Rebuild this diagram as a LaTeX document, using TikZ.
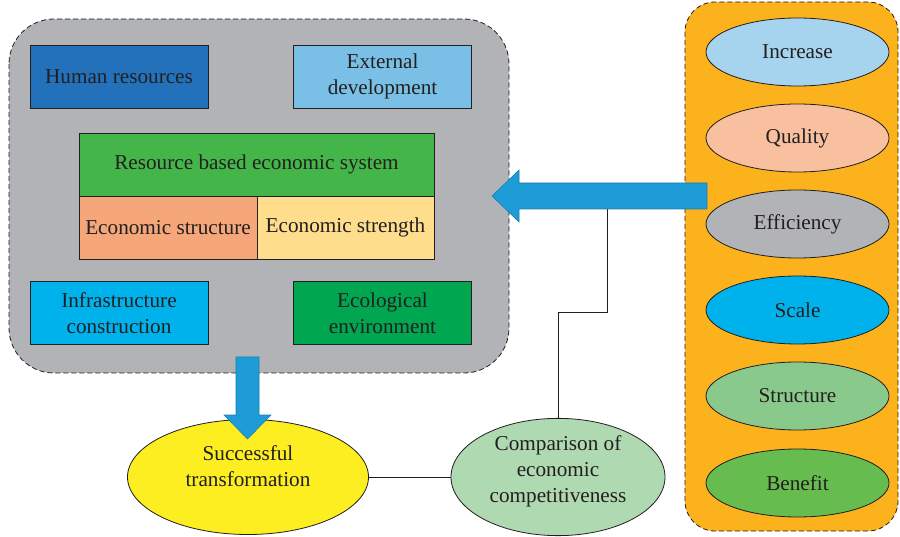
\documentclass[tikz,border=0pt]{standalone}
\usepackage{fontspec}
\setmainfont{Liberation Serif}
\usepackage{tikz}
\usetikzlibrary{shapes,calc}
\definecolor{ink}{HTML}{231F20}
\definecolor{panelgray}{HTML}{B1B3B6}
\definecolor{panelorange}{HTML}{FBB21C}
\definecolor{humanblue}{HTML}{2371BA}
\definecolor{extblue}{HTML}{7AC0E6}
\definecolor{sysgreen}{HTML}{43B549}
\definecolor{structorange}{HTML}{F5A77A}
\definecolor{strengthyellow}{HTML}{FEDD8C}
\definecolor{infrablue}{HTML}{00B2EC}
\definecolor{ecogreen}{HTML}{00A650}
\definecolor{incblue}{HTML}{A6D3EE}
\definecolor{qualpink}{HTML}{F9C0A0}
\definecolor{structgreen}{HTML}{8AC98C}
\definecolor{benefitgreen}{HTML}{67BC4F}
\definecolor{succyellow}{HTML}{FCEE21}
\definecolor{compgreen}{HTML}{AFD9B0}
\definecolor{arrowblue}{HTML}{1E9CD7}
\definecolor{arrowedge}{HTML}{1A7FB0}

\begin{document}
\begin{tikzpicture}[x=1pt,y=-1pt,
  box/.style={draw=ink,line width=0.8pt,minimum width=178pt,minimum height=63pt,inner sep=2pt,align=center,text=ink,font=\fontsize{21.2}{26}\selectfont},
  oval/.style={ellipse,draw=ink,line width=0.8pt,minimum width=183pt,minimum height=68pt,inner sep=0pt,align=center,text=ink,font=\fontsize{21.2}{26}\selectfont},
  panel/.style={draw=ink,line width=0.8pt,dash pattern=on 5pt off 3pt},
  bigarrow/.style={fill=arrowblue,draw=arrowedge,line width=0.6pt}]
\useasboundingbox (0,0) rectangle (900,537);
% containers
\draw [panel,fill=panelgray,rounded corners=45pt] (9,19) rectangle (509,373);
\draw [panel,fill=panelorange,rounded corners=30pt] (685,2) rectangle (898,531);
% left group
\node [box,fill=humanblue] (human) at (119,76.5) {Human resources};
\node [box,fill=extblue] (ext) at (382.5,76.5) {External\\development};
\node [box,fill=sysgreen,minimum width=355pt] (sys) at (256.5,164.5) {Resource based economic system};
\node [box,fill=structorange,minimum width=178pt] (estruct) at (168,227.5) {Economic structure};
\node [box,fill=strengthyellow,minimum width=177pt] (estrength) at (345.5,227.5) {Economic strength};
\node [box,fill=infrablue] (infra) at (119,313) {Infrastructure\\construction};
\node [box,fill=ecogreen] (eco) at (382.5,313) {Ecological\\environment};
% right group
\node [oval,fill=incblue] (inc) at (797.5,52) {Increase};
\node [oval,fill=qualpink] (qual) at (797.5,138) {Quality};
\node [oval,fill=panelgray] (eff) at (797.5,224) {Efficiency};
\node [oval,fill=infrablue] (scale) at (797.5,310) {Scale};
\node [oval,fill=structgreen] (struct) at (797.5,396) {Structure};
\node [oval,fill=benefitgreen] (benefit) at (797.5,483) {Benefit};
% bottom
\node [oval,fill=succyellow,minimum width=241pt,minimum height=115pt] (succ) at (248,477) {Successful\\transformation\\[-4pt]\mbox{}};
\node [oval,fill=compgreen,minimum width=214pt,minimum height=111pt] (comp) at (558,477) {Comparison of\\economic\\competitiveness\\[-10pt]\mbox{}};
\coordinate (foot) at (607,209);
\draw [ink,line width=0.8pt] (succ.east) -- (comp.west);
\draw [ink,line width=0.8pt] (comp.north) -- (comp.north |- 0,312) -| (foot);
% arrows
\draw [bigarrow] (707,183) -- (519,183) -- (519,170) -- (492,196) -- (519,222) -- (519,209) -- (707,209) -- cycle;
\draw [bigarrow] (236,357) -- (259,357) -- (259,415) -- (271,415) -- (247.5,439) -- (224,415) -- (236,415) -- cycle;
\end{tikzpicture}
\end{document}
